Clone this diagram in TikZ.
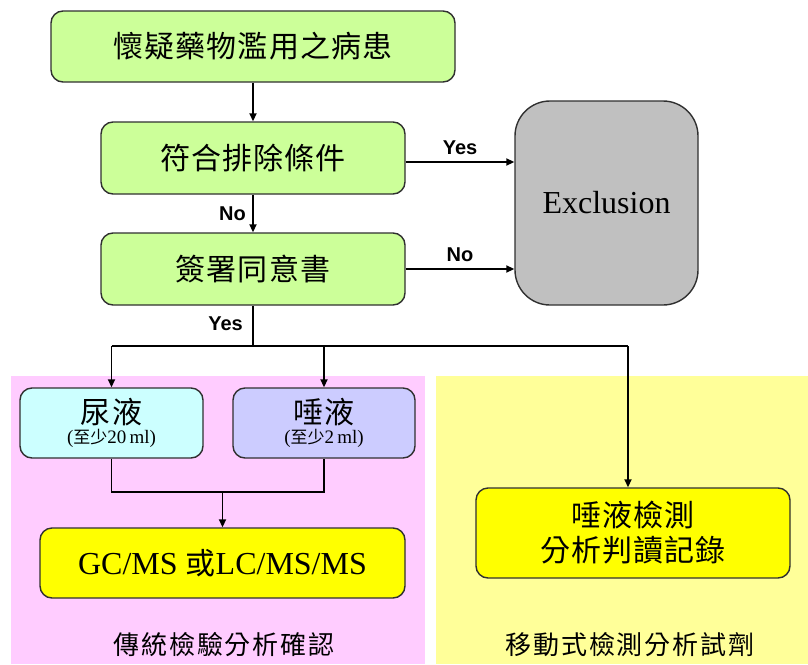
\documentclass[tikz,border=0pt]{standalone}
\usepackage{fontspec}
\setmainfont{Liberation Serif}
\newfontfamily\cjk[LetterSpace=4]{Noto Sans CJK TC}
\newfontfamily\cjkb[LetterSpace=7]{Noto Sans CJK TC}
\newfontfamily\cjkn{Noto Sans CJK TC}
\newfontfamily\arl{Liberation Sans}
\usetikzlibrary{arrows.meta}
\definecolor{gfill}{HTML}{CCFF99}
\definecolor{cfill}{HTML}{CCFFFF}
\definecolor{lfill}{HTML}{CCCCFF}
\definecolor{xfill}{HTML}{C0C0C0}
\definecolor{pbg}{HTML}{FFCCFF}
\definecolor{ybg}{HTML}{FFFF99}
\definecolor{yfill}{HTML}{FFFF00}
\definecolor{edge}{HTML}{303030}
\newcommand{\fs}[2]{\fontsize{#1}{#2}\selectfont}
\begin{document}
\begin{tikzpicture}[x=1pt,y=-1pt,
  box/.style={draw=edge,line width=1.4pt,rounded corners=12pt,inner sep=0pt,align=center},
  arr/.style={line width=1.8pt,-{Triangle[length=8pt,width=7pt]}},
  ln/.style={line width=1.8pt},
  lab/.style={font=\arl\bfseries\fs{20}{22}},
  big/.style={font=\cjk\fs{30}{34}}]
\useasboundingbox (0,0) rectangle (808,664);
% backgrounds
\fill[pbg] (11,376) rectangle (425,664);
\fill[ybg] (436,376) rectangle (808,664);
% nodes
\node[box,fill=gfill,minimum width=404pt,minimum height=71pt,big] (top) at (253,46.5) {懷疑藥物濫用之病患};
\node[box,fill=gfill,minimum width=304pt,minimum height=72pt,big] (b2) at (253,158) {符合排除條件};
\node[box,fill=gfill,minimum width=304pt,minimum height=72pt,big] (b3) at (253,269) {簽署同意書};
\node[box,fill=xfill,rounded corners=35pt,minimum width=183pt,minimum height=204pt,font=\fs{32}{36}] (ex) at (606.5,203) {Exclusion};
\node[box,fill=cfill,minimum width=183pt,minimum height=70pt] (uri) at (111.5,423)
  {{\cjk\fs{30}{30}尿液}\\[3pt]{\fs{19}{19}(\cjkn\fs{17}{19}至少\rmfamily\fs{19}{19}20\,ml)}};
\node[box,fill=lfill,minimum width=182pt,minimum height=70pt] (sal) at (324,423)
  {{\cjk\fs{30}{30}唾液}\\[3pt]{\fs{19}{19}(\cjkn\fs{17}{19}至少\rmfamily\fs{19}{19}2\,ml)}};
\node[box,fill=yfill,minimum width=365pt,minimum height=70pt,font=\fs{32}{36}] (gc) at (222.5,563)
  {GC/MS {\cjkn\fs{30}{36}或}LC/MS/MS};
\node[box,fill=yfill,minimum width=314pt,minimum height=90pt,font=\cjk\fs{30}{35}] (st) at (633,533)
  {唾液檢測\\分析判讀記錄};
\node[font=\cjkb\fs{26}{30}] (l1) at (224,645) {傳統檢驗分析確認};
\node[font=\cjkb\fs{26}{30}] (l2) at (630,645) {移動式檢測分析試劑};
% connectors
\draw[arr] (top.south) -- (b2.north);
\draw[arr] (b2.south) -- node[lab,left=3pt] (no1) {No} (b3.north);
\draw[arr] ([yshift=-4pt]b2.east) -- node[lab,above=3pt] (yes1) {Yes} ([yshift=-4pt]b2.east -| ex.west);
\draw[arr] (b3.east) -- node[lab,above=3pt] (no2) {No} (b3.east -| ex.west);
\coordinate (jc) at (253,346);
\coordinate (jl) at (111.5,346);
\coordinate (jr) at (628,346);
\draw[ln] (b3.south) -- node[lab,left=6pt,pos=0.45] (yes2) {Yes} (jc);
\draw[ln] (jl) -- (jr);
\draw[arr] (jl) -- (uri.north);
\draw[arr] (jl -| sal.north) -- (sal.north);
\draw[arr] (jr) -- (jr |- st.north);
\coordinate (jm) at (222.5,492);
\draw[ln] (uri.south) |- (jm) -| (sal.south);
\draw[arr] (jm) -- (gc.north);
\end{tikzpicture}
\end{document}
